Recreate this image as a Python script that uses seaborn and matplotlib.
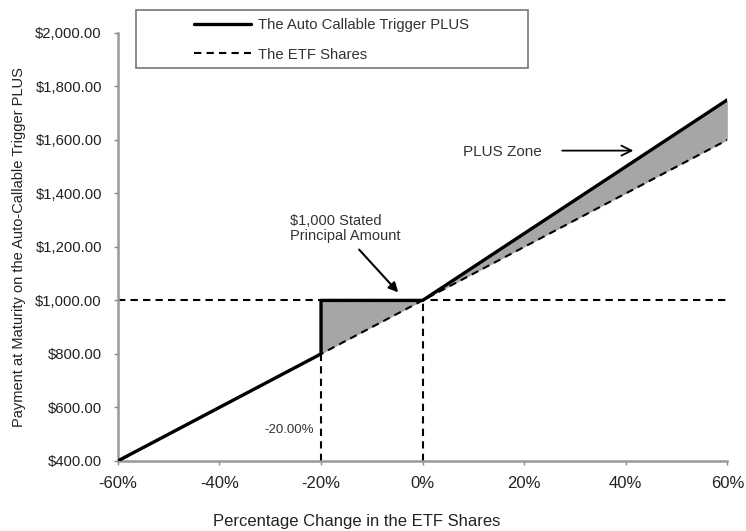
import numpy as np
import pandas as pd
import matplotlib
matplotlib.use("Agg")
import matplotlib.pyplot as plt
import seaborn as sns
from matplotlib.ticker import FuncFormatter
from matplotlib.patches import Rectangle

# pontos do payoff (variacao % do ETF -> pagamento no vencimento)
plus_change = [-60, -20, -20, 0, 60]
plus_payment = [400, 800, 1000, 1000, 1750]
etf_change = [-60, -20, 0, 60]
etf_payment = [400, 800, 1000, 1600]

x_ticks = [-60, -40, -20, 0, 20, 40, 60]
y_ticks = [400, 600, 800, 1000, 1200, 1400, 1600, 1800, 2000]

sns.set_style("white")
plt.rcParams['font.family'] = ['Liberation Sans', 'DejaVu Sans']

fig = plt.figure(figsize=(7.46, 5.31), dpi=100)
ax = fig.add_axes([0.158, 0.132, 0.817, 0.806])

df_plus = pd.DataFrame({'x': plus_change, 'y': plus_payment})
df_etf = pd.DataFrame({'x': etf_change, 'y': etf_payment})

dash = (0, (3.5, 2.5))

# area sombreada entre PLUS e ETF
ax.fill_between(etf_change[1:3], [plus_payment[2], plus_payment[3]], etf_payment[1:3],
                color='#a6a6a6', lw=0, zorder=1)
ax.fill_between(etf_change[2:], plus_payment[3:], etf_payment[2:],
                color='#a6a6a6', lw=0, zorder=1)

# linhas de referencia
ax.plot([-60, 60], [1000, 1000], color='black', ls=dash, lw=1.5, zorder=2)
ax.plot([-20, -20], [400, 800], color='black', ls=dash, lw=1.5, zorder=2)
ax.plot([0, 0], [400, 1000], color='black', ls=dash, lw=1.5, zorder=2)

sns.lineplot(data=df_etf, x='x', y='y', ax=ax, color='black', lw=1.5,
             linestyle=dash, sort=False, estimator=None,
             label='The ETF Shares', zorder=3)
sns.lineplot(data=df_plus, x='x', y='y', ax=ax, color='black', lw=2.4,
             sort=False, estimator=None, label='The Auto Callable Trigger PLUS', zorder=4)

ax.set_xlim(-60, 60)
ax.set_ylim(400, 2000)
ax.set_xticks(x_ticks)
ax.set_yticks(y_ticks)
ax.xaxis.set_major_formatter(FuncFormatter(lambda v, p: f"{v:.0f}%"))
ax.yaxis.set_major_formatter(FuncFormatter(lambda v, p: f"${v:,.2f}"))
ax.tick_params(axis='both', colors='#888888', labelcolor='#222222',
               length=3, width=1, direction='out', left=True, bottom=True)
ax.tick_params(axis='x', labelsize=12, pad=8)
ax.tick_params(axis='y', labelsize=10.7, pad=8.5)

for side in ['top', 'right']:
    ax.spines[side].set_visible(False)
for side in ['left', 'bottom']:
    ax.spines[side].set_color('#999999')
    ax.spines[side].set_linewidth(1.8)

ax.set_xlabel("Percentage Change in the ETF Shares", fontsize=12, color='#222222')
ax.xaxis.set_label_coords(0.392, -0.125)
ax.set_ylabel("Payment at Maturity on the Auto-Callable Trigger PLUS", fontsize=10.5,
              color='#222222')
ax.yaxis.set_label_coords(-0.15, 0.5)

# legenda centrada dentro de uma caixa propria
box = Rectangle((0.0296, 0.918), 0.6434, 0.136, transform=ax.transAxes, fill=True,
                facecolor='white', edgecolor='#777777', lw=1.2, clip_on=False, zorder=9)
ax.add_patch(box)
handles, labels = ax.get_legend_handles_labels()
leg = ax.legend(handles[::-1], labels[::-1], loc='center',
                bbox_to_anchor=(0.351, 0.984), frameon=False, fontsize=10.7,
                handlelength=3.8, handletextpad=0.5, labelspacing=1.05,
                borderaxespad=0, borderpad=0)
leg.set_zorder(10)
for t in leg.get_texts():
    t.set_color('#333333')

# anotacoes
ax.text(-26.1, 1215, "$1,000 Stated\nPrincipal Amount", fontsize=10.5, color='#333333',
        ha='left', va='bottom', linespacing=1.05)
ax.annotate("", xy=(-4.8, 1030), xytext=(-12.5, 1190),
            arrowprops=dict(arrowstyle='-|>', color='black', lw=1.5, shrinkA=0, shrinkB=0,
                            mutation_scale=14))
ax.text(23.5, 1555, "PLUS Zone", fontsize=11, color='#333333', ha='right', va='center')
ax.annotate("", xy=(41.5, 1560), xytext=(27.5, 1560),
            arrowprops=dict(arrowstyle='->', color='black', lw=1.3, shrinkA=0, shrinkB=0,
                            mutation_scale=18))
ax.text(-21.5, 516, "-20.00%", fontsize=9.5, ha='right', va='center', color='#333333')

fig.savefig("out.png", dpi=100)
